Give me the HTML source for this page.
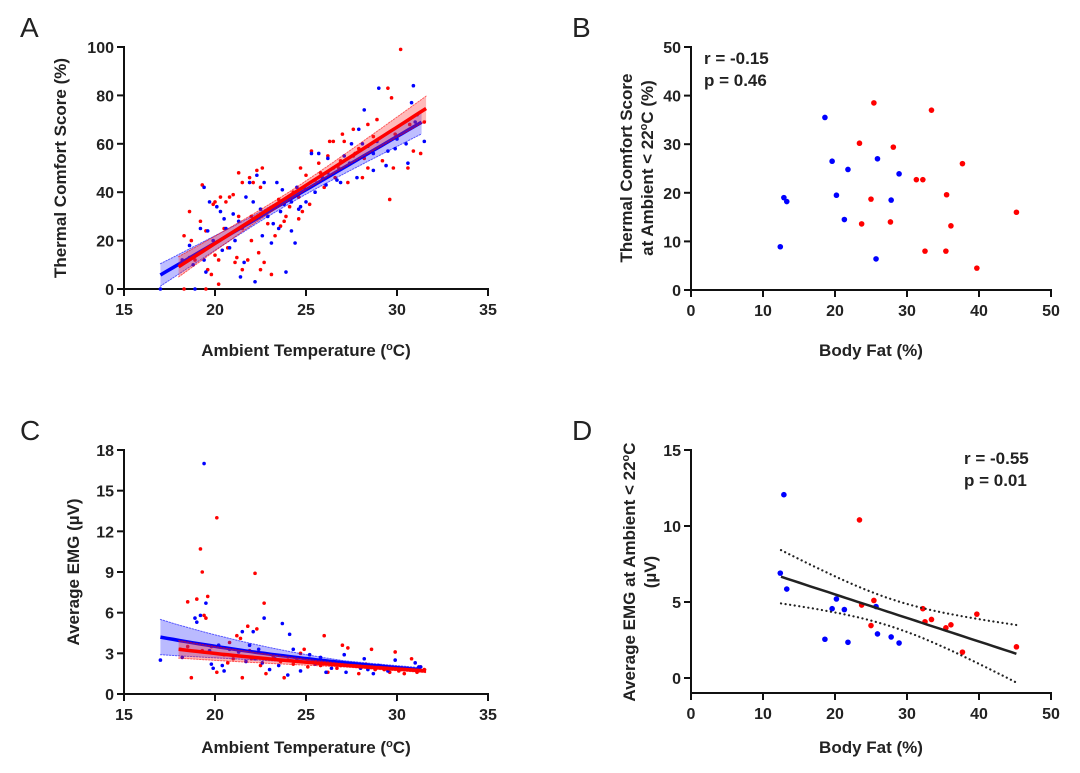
<!DOCTYPE html>
<html><head><meta charset="utf-8"><style>
html,body{margin:0;padding:0;background:#fff;}
svg{display:block;font-family:"Liberation Sans",Arial,sans-serif;}
.tk{font-size:16px;font-weight:bold;fill:#222;}
.ttl{font-size:17px;font-weight:bold;fill:#222;}
.pl{font-size:28px;fill:#222;}
</style></head><body>
<svg id="fig" width="1080" height="773" viewBox="0 0 1080 773"></svg>
<script>
// ---------- Panel A data (temp, score) ----------
const aRedT=[30.2,29.5,29.7,28.4,28.7,31.5,29.6,29.8,27,27.1,27.6,27.9,28.4,28.2,25.3,26.3,26.5,26.2,25.7,24.7,25,25.5,26,26.6,25.2,24.8,24.6,23.8,23.5,22.5,22.3,22.6,21.9,22.1,21.3,21.5,21,20.8,20.6,20.3,20,19.3,18.6,19.9,19.5,19.2,18.7,18.3,18,18.9,19.6,19.8,20,20.2,20.7,21.2,21.5,21.1,22,22.4,22.7,23.1,22.5,21.8,22.9,23.3,23.6,24.1,24.6,23.9,24.3,26.8,27.3,28.1,29.2,30.6,31.3,30.9,29.9,28.9,27.6,26.9,18.3,19.5,20.2,21.5,22,23,20.5,21.3,24.9,25.8,27.7,30.7,31.1];
const aRedS=[99,83,79,68,63,69,37,50,64,61,55,58,50,54,57,61,61,55,52,50,47,45,42,46,35,32,29,28,37,42,49,50,46,44,48,44,39,38,36,38,36,43,32,35,24,28,20,22,10,12,8,6,14,12,17,13,8,11,20,15,11,6,8,12,27,22,26,34,38,30,40,50,44,46,53,50,56,57,64,70,66,53,0,0,2,25,30,33,25,30,42,48,56,68,72];
const aBlueT=[29,30.9,30.8,31.1,30.5,31.5,30.6,28.9,29.4,28.7,28.1,28.4,27.9,28.2,27.5,27.1,25.7,26.2,26.7,26.9,26.2,25.3,24.5,24.9,24.6,24.2,23.7,23.4,23.8,23.2,22.7,22.3,22.1,22.5,21.7,21.9,21,20.3,20.5,20.1,19.7,19.4,19.6,19.2,18.6,18.2,18.8,19.4,19.5,20.4,20.8,21.1,21.6,22.2,21.4,22.6,23.1,23.5,23.9,24.2,24.4,24.7,25,25.9,26.5,27.4,28.7,29.5,30,27.8,26.1,18.6,19.9,20.6,21.3,22.9,23.6,17,18.9,25.5,29.9,31];
const aBlueS=[83,84,77,72,60,61,52,61,51,49,60,59,66,74,60,55,56,54,45,44,48,56,42,42,33,36,41,44,35,27,44,47,36,33,38,44,31,32,29,34,36,42,24,25,18,12,10,12,7,16,17,20,11,3,5,22,19,25,7,24,19,34,36,46,50,52,56,57,62,46,43,13,20,25,28,30,32,0,0,40,58,69];
// regression (slope, intercept, x-range)
const aRedFit=[4.81,-77.4,18,31.6];
const aBlueFit=[4.4,-69,17,31.35];
// ---------- Panel B data ----------
const bBlueX=[18.6,19.6,21.8,25.9,28.9,20.2,12.9,13.3,27.8,21.3,12.4,25.7];
const bBlueY=[35.5,26.5,24.8,27,23.9,19.5,19,18.2,18.5,14.5,8.9,6.4];
const bRedX=[25.4,33.4,23.4,28.1,37.7,31.3,32.2,35.5,25,45.2,23.7,27.7,36.1,32.5,35.4,39.7];
const bRedY=[38.5,37,30.2,29.4,26,22.7,22.7,19.6,18.7,16,13.6,14,13.2,8,8,4.5];
// ---------- Panel C data (temp, EMG) ----------
const cRedT=[19.2,19.3,20.1,19,19.6,22.2,22.7,18.5,19.4,19.5,21.8,22.3,20.8,21.2,21.4,26,27,27.3,28.6,29.9,30.8,18.1,18.5,19.8,20.1,18.7,21.5,23.2,22.8,24.7,24.9,25.8,26.2,27.6,28.3,29.3,30.4,31.5,31.3,20.5,21,22,23.6,24.3,25.1,26.7,28.8,30.1,19.3,21.9,23.8,25.4,27.9,31.1,30.6,29.6,22.5,20.7,24,26.9];
const cRedE=[10.7,9,13,7,7.2,8.9,6.7,6.8,5.8,5.6,5,4.8,3.8,4.3,4.1,4.3,3.6,3.4,3.3,3.1,2.6,3.3,3.5,3.5,1.6,1.2,1.2,2.8,1.5,3.0,3.3,2.1,1.6,2.2,2.2,1.8,1.5,1.8,2.0,2.9,2.6,2.6,2.4,2.2,2.0,1.9,1.8,1.7,3.2,3.2,1.2,2.5,1.5,1.6,1.8,1.6,2.1,2.3,2.5,2.1];
const cBlueT=[19.4,19.5,19.2,18.9,19,19.7,19.8,17,18.2,21.5,21.9,22.7,23.7,24.1,22.1,27.1,28.2,29.9,31,31.3,20.2,20.8,21.3,22.2,22.6,23,23.5,24,24.5,25.2,25.5,26.1,26.7,27.2,28,28.7,29.5,30,30.5,31.2,19.9,20.4,21.7,23.3,24.7,25.8,27.5,29,30.8,20.5,22.4,24.3,26.4,28.4];
const cBlueE=[17,6.7,5.8,5.6,5.3,3.2,2.2,2.5,2.7,4.6,3.6,5.6,5.2,4.4,4.6,2.9,2.6,2.5,2.3,2.0,3.6,3.3,3.1,2.6,2.3,1.8,2.1,1.4,2.6,2.9,2.2,1.6,2.3,1.6,1.9,1.5,1.7,1.9,1.9,2.0,1.9,2.1,2.4,2.6,1.7,2.7,2.1,2.1,1.8,1.7,3.3,3.3,1.9,1.8];
// exponential fit: a*exp(-k*(x-x0)), x-range
const cRedFit=[3.3,0.0488,18,31.6];
const cBlueFit=[4.2,0.0593,17,31.3];
// ---------- Panel D data ----------
const dBlueX=[12.9,12.4,13.3,20.2,19.6,21.3,25.7,25.9,27.8,28.9,18.6,21.8];
const dBlueY=[12.06,6.9,5.85,5.2,4.56,4.5,4.7,2.9,2.7,2.3,2.55,2.35];
const dRedX=[23.4,23.7,25.4,25,32.2,32.5,33.4,35.4,36.1,39.7,37.7,45.2];
const dRedY=[10.4,4.8,5.1,3.45,4.56,3.7,3.85,3.3,3.5,4.2,1.7,2.05];
const dFit=[-0.155,8.6,12.5,45.2];

const NS='http://www.w3.org/2000/svg';
const svg=document.getElementById('fig');
function mk(tag,attrs,parent){const e=document.createElementNS(NS,tag);for(const k in attrs)e.setAttribute(k,attrs[k]);(parent||svg).appendChild(e);return e;}
function txt(s,attrs,parent){const e=mk('text',attrs,parent);e.textContent=s;return e;}

function panel(name,cfg){
  const g=mk('g',{});
  
  
  const sx=v=>cfg.x0+(v-cfg.xmin)/(cfg.xmax-cfg.xmin)*(cfg.x1-cfg.x0);
  const sy=v=>cfg.y0-(v-cfg.ymin)/(cfg.ymax-cfg.ymin)*(cfg.y0-cfg.y1);
  const ax=mk('g',{},g);
  
  
  mk('line',{x1:cfg.x0,y1:cfg.axisY,x2:cfg.x1+1,y2:cfg.axisY,stroke:'#111','stroke-width':2},ax);
  mk('line',{x1:cfg.x0,y1:cfg.y1-1,x2:cfg.x0,y2:cfg.axisY+1,stroke:'#111','stroke-width':2},ax);
  cfg.xt.forEach(v=>{const x=sx(v);mk('line',{x1:x,y1:cfg.axisY,x2:x,y2:cfg.axisY+7,stroke:'#111','stroke-width':2},ax);
    const t=txt(String(v),{x:x,y:cfg.axisY+26,'text-anchor':'middle',class:'tk'},ax);
    
    });
  cfg.yt.forEach(v=>{const y=sy(v);mk('line',{x1:cfg.x0-7,y1:y,x2:cfg.x0,y2:y,stroke:'#111','stroke-width':2},ax);
    const t=txt(String(v),{x:cfg.x0-10,y:y+6,'text-anchor':'end',class:'tk'},ax);
    
    });
  return {g,sx,sy};
}
function dots(p,X,Y,col,r,nm){
  const gg=mk('g',{},p.g);
  
  
  X.forEach((x,i)=>{const c=mk('circle',{cx:p.sx(x),cy:p.sy(Y[i]),r:r,fill:col},gg);
    
    });
}
function fitBand(p,f,hw,col,fill,nm,lw){
  const gg=mk('g',{},p.g);
  
  
  const n=40,up=[],lo=[],mid=[];
  for(let i=0;i<=n;i++){const x=f.x0+(f.x1-f.x0)*i/n;const y=f.fn(x);const h=hw(x);
    mid.push([p.sx(x),p.sy(y)]);up.push([p.sx(x),p.sy(y+h)]);lo.push([p.sx(x),p.sy(y-h)]);}
  const pts=a=>a.map(q=>q[0].toFixed(1)+','+q[1].toFixed(1)).join(' ');
  if(fill){mk('polygon',{points:pts(up.concat(lo.slice().reverse())),fill:fill,stroke:'none'},gg);}
  const da=fill?'1.5,1.5':'0.1,4.5';
  mk('polyline',{points:pts(up),fill:'none',stroke:col,'stroke-width':fill?1:2.2,'stroke-dasharray':da,'stroke-linecap':'round',opacity:fill?0.6:1},gg);
  mk('polyline',{points:pts(lo),fill:'none',stroke:col,'stroke-width':fill?1:2.2,'stroke-dasharray':da,'stroke-linecap':'round',opacity:fill?0.6:1},gg);
  mk('polyline',{points:pts(mid),fill:'none',stroke:col,'stroke-width':lw},gg);
}

// ===== Panel A =====
const A=panel('panel-a',{x0:124,x1:488,y0:289,y1:47,axisY:289,xmin:15,xmax:35,ymin:0,ymax:100,xt:[15,20,25,30,35],yt:[0,20,40,60,80,100]});
dots(A,aRedT,aRedS,'#ff0000',1.8,'red-points');
dots(A,aBlueT,aBlueS,'#0000ff',1.8,'blue-points');
fitBand(A,{x0:aBlueFit[2],x1:aBlueFit[3],fn:x=>aBlueFit[0]*x+aBlueFit[1]},x=>Math.sqrt(3+0.38*Math.pow(x-24,2)),'#0000ff','rgba(40,40,255,0.3)','blue-regression',3.5);
fitBand(A,{x0:aRedFit[2],x1:aRedFit[3],fn:x=>aRedFit[0]*x+aRedFit[1]},x=>Math.sqrt(3+0.4*Math.pow(x-24,2)),'#ff0000','rgba(255,40,40,0.32)','red-regression',3.5);

// ===== Panel B =====
const B=panel('panel-b',{x0:691,x1:1051,y0:290,y1:47,axisY:290,xmin:0,xmax:50,ymin:0,ymax:50,xt:[0,10,20,30,40,50],yt:[0,10,20,30,40,50]});
dots(B,bBlueX,bBlueY,'#0000ff',2.8,'blue-points');
dots(B,bRedX,bRedY,'#ff0000',2.8,'red-points');

// ===== Panel C =====
const C=panel('panel-c',{x0:124,x1:488,y0:694,y1:450,axisY:694,xmin:15,xmax:35,ymin:0,ymax:18,xt:[15,20,25,30,35],yt:[0,3,6,9,12,15,18]});
dots(C,cRedT,cRedE,'#ff0000',1.8,'red-points');
dots(C,cBlueT,cBlueE,'#0000ff',1.8,'blue-points');
fitBand(C,{x0:cBlueFit[2],x1:cBlueFit[3],fn:x=>cBlueFit[0]*Math.exp(-cBlueFit[1]*(x-cBlueFit[2]))},x=>Math.max(0.15,1.3*Math.pow((31.3-x)/14.3,1.8)),'#0000ff','rgba(40,40,255,0.32)','blue-regression',3.5);
fitBand(C,{x0:cRedFit[2],x1:cRedFit[3],fn:x=>cRedFit[0]*Math.exp(-cRedFit[1]*(x-cRedFit[2]))},x=>Math.max(0.12,0.65*Math.pow((31.6-x)/13.6,1.5)),'#ff0000','rgba(255,40,40,0.35)','red-regression',3.5);

// ===== Panel D =====
const D=panel('panel-d',{x0:691,x1:1051,y0:678,y1:450,axisY:693,xmin:0,xmax:50,ymin:0,ymax:15,xt:[0,10,20,30,40,50],yt:[0,5,10,15]});
dots(D,dBlueX,dBlueY,'#0000ff',2.8,'blue-points');
dots(D,dRedX,dRedY,'#ff0000',2.8,'red-points');
fitBand(D,{x0:dFit[2],x1:dFit[3],fn:x=>dFit[0]*x+dFit[1]},x=>Math.sqrt(0.81+0.0094*Math.pow(x-28,2)),'#222',null,'regression-line',2.5);
</script>
<script>
const S=document.getElementById('fig');
S.insertAdjacentHTML('beforeend',`
<text x="20" y="37" class="pl">A</text>
<text x="572" y="37" class="pl">B</text>
<text x="20" y="440" class="pl">C</text>
<text x="572" y="440" class="pl">D</text>
<text x="306" y="356" text-anchor="middle" class="ttl">Ambient Temperature (<tspan font-size="11" dy="-6">o</tspan><tspan dy="6">C)</tspan></text>
<text x="306" y="753" text-anchor="middle" class="ttl">Ambient Temperature (<tspan font-size="11" dy="-6">o</tspan><tspan dy="6">C)</tspan></text>
<text x="871" y="356" text-anchor="middle" class="ttl">Body Fat (%)</text>
<text x="871" y="753" text-anchor="middle" class="ttl">Body Fat (%)</text>
<text transform="translate(66,168) rotate(-90)" text-anchor="middle" class="ttl">Thermal Comfort Score (%)</text>
<text transform="translate(79,572) rotate(-90)" text-anchor="middle" class="ttl">Average EMG (µV)</text>
<text transform="translate(632,168) rotate(-90)" text-anchor="middle" class="ttl"><tspan x="0" dy="0">Thermal Comfort Score</tspan><tspan x="0" dy="21">at Ambient &lt; 22<tspan font-size="11" dy="-6">o</tspan><tspan dy="6">C (%)</tspan></tspan></text>
<text transform="translate(635,572) rotate(-90)" text-anchor="middle" class="ttl"><tspan x="0" dy="0">Average EMG at Ambient &lt; 22<tspan font-size="11" dy="-6">o</tspan><tspan dy="6">C</tspan></tspan><tspan x="0" dy="21">(µV)</tspan></text>
<text x="704" y="64" class="ttl">r = -0.15</text>
<text x="704" y="86" class="ttl">p = 0.46</text>
<text x="964" y="464" class="ttl">r = -0.55</text>
<text x="964" y="486" class="ttl">p = 0.01</text>
`);
</script>
</body></html>
